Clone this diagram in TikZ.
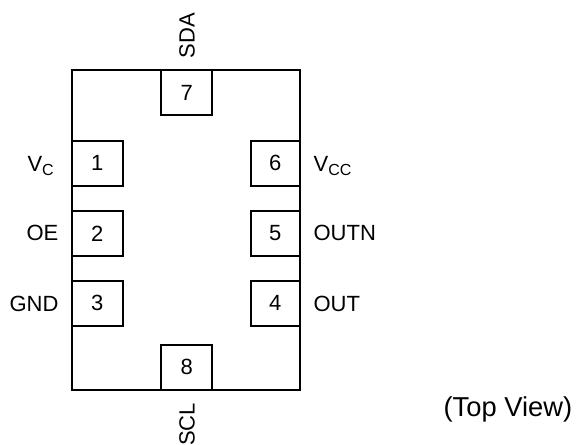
\documentclass[tikz,border=0pt]{standalone}
\usepackage{fontspec}
\setmainfont{Liberation Sans}
\tikzset{
 pinbox/.style={draw=black,line width=1.5pt,fill=white,minimum height=34pt,inner sep=0pt,font=\fontsize{16.5}{18}\selectfont},
 lab/.style={inner sep=0pt,font=\fontsize{16.5}{18}\selectfont}
}
\newcommand{\subtxt}[1]{\raisebox{-3pt}{\fontsize{12}{13}\selectfont #1}}
\begin{document}
\begin{tikzpicture}[x=1pt,y=-1pt]
\useasboundingbox (0,0) rectangle (432,333);
\node[draw=black,line width=1.5pt,minimum width=171pt,minimum height=240pt,inner sep=0pt] (body) at (139.5,172.5) {};
\node[pinbox,minimum width=38pt] (p7) at (140,69.5) {7};
\node[pinbox,minimum width=38pt] (p8) at (140,275.5) {8};
\node[pinbox,minimum width=38pt] (p1) at (73,122.5) {1};
\node[pinbox,minimum width=38pt] (p2) at (73,175) {2};
\node[pinbox,minimum width=38pt] (p3) at (73,227.5) {3};
\node[pinbox,minimum width=37pt] (p6) at (206.5,122.5) {6};
\node[pinbox,minimum width=37pt] (p5) at (206.5,175) {5};
\node[pinbox,minimum width=37pt] (p4) at (206.5,227.5) {4};
\node[lab,rotate=90,anchor=base west] (sda) at (146,44) {SDA};
\node[lab,rotate=90,anchor=base east] (scl) at (146,302) {SCL};
\node[lab,anchor=base east] (vc) at (40.5,128.5) {V\subtxt{C}};
\node[lab,anchor=base east] (oe) at (44,180.5) {OE};
\node[lab,anchor=base east] (gnd) at (44,233.5) {GND};
\node[lab,anchor=base west] (vcc) at (235,128.5) {V\subtxt{CC}};
\node[lab,anchor=base west] (outn) at (235,180.5) {OUTN};
\node[lab,anchor=base west] (out) at (235,233.5) {OUT};
\node[lab,anchor=base west,font=\fontsize{20.5}{22}\selectfont] (tv) at (332.5,312.5) {(Top View)};
\end{tikzpicture}
\end{document}
